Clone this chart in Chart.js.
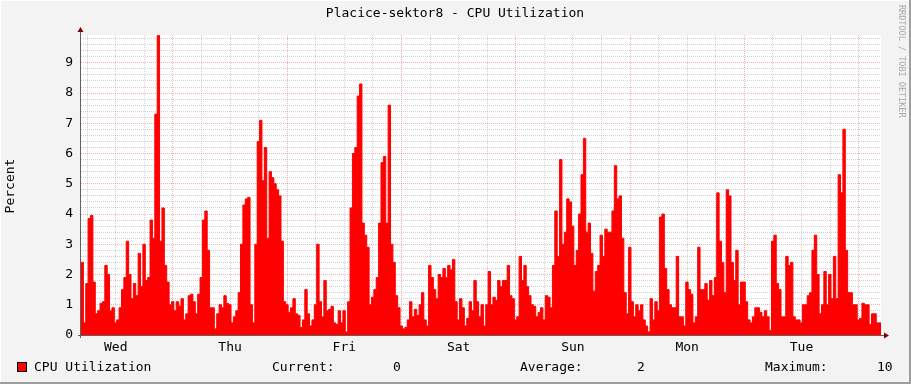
<!DOCTYPE html>
<html>
<head>
<meta charset="utf-8">
<script src="https://cdn.jsdelivr.net/npm/chart.js@4.4.1/dist/chart.umd.min.js"></script>
<style>
  body { margin: 0; background: #F3F3F3; }
  canvas { display: block; }
</style>
</head>
<body>
<canvas id="graph" width="911" height="384"></canvas>
<script>
// one value per 30 min bucket, one week (Wed .. Tue)
const STEP_H = 0.5
const WEEK_H = 168
const cpu = [
  1.5, 2.4, 0.4, 1.7, 3.85, 3.95, 1.75, 0.7, 0.8, 1.05,
  1.1, 2.3, 2.0, 0.8, 0.9, 0.4, 0.5, 0.9, 1.5, 1.9,
  3.1, 2.0, 1.2, 1.7, 1.3, 2.7, 1.6, 3.0, 1.8, 1.9,
  3.8, 3.2, 7.3, 9.9, 3.1, 4.2, 2.3, 1.75, 1.0, 1.1,
  0.8, 1.1, 0.95, 1.2, 0.5, 0.7, 1.3, 1.35, 1.1, 0.7,
  1.35, 1.9, 3.8, 4.1, 2.8, 0.9, 0.9, 0.2, 0.7, 1.0,
  0.9, 1.3, 1.05, 1.0, 0.4, 0.6, 0.8, 1.4, 3.0, 4.3,
  4.5, 4.55, 1.0, 0.4, 3.0, 6.4, 7.1, 5.1, 6.2, 3.2,
  5.4, 5.2, 5.0, 4.8, 4.6, 3.1, 1.1, 1.0, 0.75, 0.9,
  1.2, 0.7, 0.65, 0.25, 0.5, 1.5, 0.7, 0.3, 0.5, 1.0,
  3.0, 1.1, 0.6, 1.8, 0.8, 0.85, 0.95, 0.4, 0.35, 0.8,
  0.4, 0.8, 0.1, 1.1, 4.2, 6.0, 6.2, 7.9, 8.3, 3.7,
  3.3, 2.9, 1.0, 1.25, 1.5, 1.9, 3.7, 5.7, 5.9, 3.7,
  7.6, 3.0, 2.4, 1.3, 0.9, 0.3, 0.2, 0.25, 0.5, 1.1,
  0.6, 0.85, 0.65, 1.0, 1.4, 0.5, 0.3, 2.3, 1.9, 1.5,
  1.2, 2.0, 1.9, 2.2, 1.9, 2.3, 2.15, 2.5, 1.1, 0.5,
  1.2, 0.9, 0.3, 0.55, 1.1, 0.8, 1.8, 1.1, 0.6, 1.0,
  0.3, 1.0, 2.1, 1.0, 1.25, 1.15, 1.8, 1.6, 1.8, 1.8,
  2.3, 1.3, 1.2, 0.5, 0.6, 2.6, 1.8, 2.3, 1.6, 1.3,
  1.0, 0.95, 0.6, 0.75, 0.9, 0.5, 1.3, 1.25, 0.9, 2.3,
  4.1, 2.6, 5.8, 3.0, 3.4, 4.5, 4.4, 3.6, 2.3, 2.8,
  4.0, 5.3, 6.5, 3.4, 3.7, 2.7, 1.45, 2.1, 2.3, 3.3,
  2.6, 3.5, 3.4, 3.4, 4.1, 5.6, 4.5, 4.6, 3.2, 1.4,
  0.7, 2.9, 1.1, 0.6, 1.0, 0.8, 1.0, 0.5, 0.3, 0.1,
  1.2, 0.5, 1.1, 0.8, 3.9, 4.0, 2.2, 1.5, 1.0, 0.9,
  0.9, 2.6, 0.6, 0.6, 0.3, 1.75, 1.5, 1.35, 0.4, 0.6,
  2.9, 1.5, 1.5, 1.7, 1.15, 1.8, 1.3, 1.9, 4.7, 3.1,
  2.4, 1.4, 4.8, 4.6, 2.4, 1.8, 2.8, 1.0, 1.75, 1.75,
  1.1, 0.5, 0.4, 0.6, 0.9, 0.9, 0.75, 0.6, 0.8, 0.6,
  0.15, 3.1, 3.3, 1.7, 1.5, 0.6, 0.6, 2.6, 2.3, 2.4,
  0.6, 0.5, 0.5, 0.4, 1.0, 1.0, 1.3, 1.4, 2.8, 3.3,
  2.0, 0.7, 1.0, 2.1, 1.0, 2.0, 1.2, 2.6, 1.2, 5.3,
  4.7, 6.8, 2.8, 1.4, 1.4, 1.0, 1.0, 0.5, 0.55, 1.05,
  1.0, 1.0, 0.35, 0.7, 0.7, 0.4
]
const dayLabels = ['Wed', 'Thu', 'Fri', 'Sat', 'Sun', 'Mon', 'Tue']
const GRID_OFFSET_H = 1.3   // first 6h grid line after graph start
const Y_MAX = 9.92

const FONT = 'DejaVu Sans Mono'
Chart.defaults.font.family = FONT
Chart.defaults.font.size = 13
Chart.defaults.color = '#000'

const points = cpu.map((v, i) => ({ x: i * STEP_H, y: v }))
points.push({ x: WEEK_H, y: cpu[cpu.length - 1] })

const gridHours = []
for (let h = GRID_OFFSET_H; h < WEEK_H; h += 6) gridHours.push(h)

const current = Math.round(cpu[cpu.length - 1])
const average = Math.round(cpu.reduce((a, b) => a + b, 0) / cpu.length)
const maximum = Math.round(Math.max(...cpu))

const MINOR = 'rgba(143,143,143,0.4)'
const MAJOR = 'rgba(200,40,40,0.35)'

const rrdLook = {
  id: 'rrdLook',
  beforeDraw(chart) {
    const { ctx, chartArea: a } = chart
    ctx.save()
    ctx.fillStyle = '#F3F3F3'
    ctx.fillRect(0, 0, chart.width, chart.height)
    ctx.fillStyle = '#FFFFFF'
    ctx.fillRect(a.left, a.top, a.right - a.left, a.bottom - a.top)
    ctx.restore()
  },
  afterDraw(chart) {
    const { ctx, chartArea: a } = chart
    ctx.save()
    // frame
    ctx.fillStyle = '#FFFFFF'
    ctx.fillRect(0, 0, chart.width, 1)
    ctx.fillRect(0, 0, 1, chart.height)
    ctx.fillStyle = '#9E9E9E'
    ctx.fillRect(chart.width - 2, 0, 2, chart.height)
    ctx.fillRect(0, chart.height - 2, chart.width, 2)

    // axes with arrows
    ctx.strokeStyle = '#606060'
    ctx.lineWidth = 1
    ctx.beginPath()
    ctx.moveTo(a.left - 0.5, a.bottom + 3)
    ctx.lineTo(a.left - 0.5, a.top - 3)
    ctx.moveTo(a.left - 3, a.bottom + 0.5)
    ctx.lineTo(a.right + 4, a.bottom + 0.5)
    ctx.stroke()
    ctx.fillStyle = '#7F0000'
    ctx.beginPath()
    ctx.moveTo(a.left - 3.5, a.top - 3)
    ctx.lineTo(a.left + 2.5, a.top - 3)
    ctx.lineTo(a.left - 0.5, a.top - 8)
    ctx.closePath()
    ctx.fill()
    ctx.beginPath()
    ctx.moveTo(a.right + 3, a.bottom - 2.5)
    ctx.lineTo(a.right + 3, a.bottom + 3.5)
    ctx.lineTo(a.right + 8, a.bottom + 0.5)
    ctx.closePath()
    ctx.fill()

    // title
    ctx.fillStyle = '#000'
    ctx.font = '13px "' + FONT + '"'
    ctx.textAlign = 'center'
    ctx.textBaseline = 'middle'
    ctx.fillText('Placice-sektor8 - CPU Utilization', 455, 14)

    // vertical axis title
    ctx.save()
    ctx.translate(11, 186)
    ctx.rotate(-Math.PI / 2)
    ctx.fillText('Percent', 0, 0)
    ctx.restore()

    // watermark
    ctx.save()
    ctx.translate(901, 5)
    ctx.rotate(Math.PI / 2)
    ctx.font = '8.5px "' + FONT + '"'
    ctx.fillStyle = '#A8A8A8'
    ctx.textAlign = 'left'
    ctx.fillText('RRDTOOL / TOBI OETIKER', 0, 0)
    ctx.restore()

    // legend
    ctx.fillStyle = '#FF0000'
    ctx.fillRect(17, 362, 10, 10)
    ctx.strokeStyle = '#000'
    ctx.strokeRect(17.5, 362.5, 9, 9)
    ctx.fillStyle = '#000'
    ctx.textAlign = 'left'
    ctx.fillText('CPU Utilization', 34, 368)
    ctx.fillText('Current:', 272, 368)
    ctx.fillText(String(current), 393, 368)
    ctx.fillText('Average:', 520, 368)
    ctx.fillText(String(average), 637, 368)
    ctx.fillText('Maximum:', 765, 368)
    ctx.fillText(String(maximum), 877, 368)
    ctx.restore()
  }
}

new Chart(document.getElementById('graph'), {
  type: 'line',
  data: {
    datasets: [{
      label: 'CPU Utilization',
      data: points,
      stepped: 'after',
      fill: 'origin',
      backgroundColor: '#FF0000',
      borderColor: '#FF0000',
      borderWidth: 1,
      pointRadius: 0
    }]
  },
  options: {
    responsive: false,
    animation: false,
    devicePixelRatio: 1,
    layout: { padding: { top: 35, right: 30, left: 0, bottom: 0 } },
    plugins: { legend: { display: false }, tooltip: { enabled: false } },
    scales: {
      x: {
        type: 'linear',
        min: 0,
        max: WEEK_H,
        z: 1,
        afterFit: s => { s.height = 49 },
        afterBuildTicks: s => { s.ticks = gridHours.map(v => ({ value: v })) },
        grid: {
          drawTicks: false,
          color: c => (c.index % 4 === 3 ? MAJOR : MINOR)
        },
        border: { display: false, dash: [1, 1] },
        ticks: {
          autoSkip: false,
          maxRotation: 0,
          padding: 5,
          callback: (v, i) => (i % 4 === 1 ? dayLabels[(i - 1) / 4] : '')
        }
      },
      y: {
        min: 0,
        max: Y_MAX,
        z: 1,
        afterFit: s => { s.width = 81 },
        grid: {
          drawTicks: false,
          color: c => (Math.abs(c.tick.value - Math.round(c.tick.value)) < 1e-6 ? MAJOR : MINOR)
        },
        border: { display: false, dash: [1, 1] },
        ticks: {
          stepSize: 0.2,
          includeBounds: false,
          autoSkip: false,
          padding: 8,
          callback: v => (Math.abs(v - Math.round(v)) < 1e-6 ? String(Math.round(v)) : '')
        }
      }
    }
  },
  plugins: [rrdLook]
})
</script>
</body>
</html>
